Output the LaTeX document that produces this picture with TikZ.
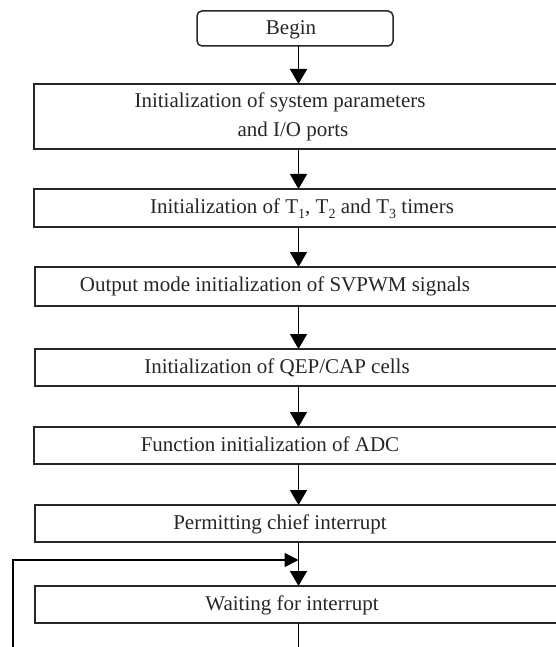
\documentclass[tikz,border=0pt]{standalone}
\usepackage{fontspec}
\setmainfont{Liberation Serif}
\usetikzlibrary{arrows.meta}
\newcommand\subs[1]{\raisebox{-0.28em}{\fontsize{14pt}{14pt}\selectfont #1}}
\begin{document}
\begin{tikzpicture}[x=1pt,y=-1pt,
  box/.style={draw=black!85, line width=1.5pt, inner sep=0pt, outer sep=0pt, minimum width=566pt},
  lbl/.style={text=black!85, font=\fontsize{21pt}{29pt}\selectfont, inner sep=0pt, align=center, anchor=base},
  arr/.style={line width=1.6pt, -{Triangle[length=15pt,width=17pt]}},
  ln/.style={line width=1.6pt}]
\clip (0,0) rectangle (556,647);
\coordinate (ax) at (298.5,0);
% boxes
\node[box, rounded corners=5pt, minimum width=196pt, minimum height=35pt] (b0) at (295,28.5) {};
\node[box, minimum height=65pt] (b1) at (317,116.5) {};
\node[box, minimum height=38pt] (b2) at (317,208) {};
\node[box, minimum height=39pt] (b3) at (318,286.5) {};
\node[box, minimum height=37pt] (b4) at (318,367.5) {};
\node[box, minimum height=37pt] (b5) at (317,445.5) {};
\node[box, minimum height=37pt] (b6) at (318,523.5) {};
\node[box, minimum height=37pt] (b7) at (318,604.5) {};
% labels
\node[lbl] (t0) at (291,35) {Begin};
\node[lbl] (t1) at (280,137) {Initialization of system parameters\\\hspace*{26pt}and I/O ports};
\node[lbl] (t2) at (302,213) {Initialization of T\subs{1}, T\subs{2}\ and T\subs{3}\ timers};
\node[lbl] (t3) at (275,291) {Output mode initialization of SVPWM signals};
\node[lbl] (t4) at (277,373) {Initialization of QEP/CAP cells};
\node[lbl] (t5) at (270,451) {Function initialization of ADC};
\node[lbl] (t6) at (280,529) {Permitting chief interrupt};
\node[lbl] (t7) at (292,610) {Waiting for interrupt};
% connectors
\draw[arr] (b0.south -| ax) -- (b1.north -| ax);
\draw[arr] (b1.south -| ax) -- (b2.north -| ax);
\draw[arr] (b2.south -| ax) -- (b3.north -| ax);
\draw[arr] (b3.south -| ax) -- (b4.north -| ax);
\draw[arr] (b4.south -| ax) -- (b5.north -| ax);
\draw[arr] (b5.south -| ax) -- (b6.north -| ax);
\draw[arr] (b6.south -| ax) -- (b7.north -| ax);
\coordinate (lb) at (13,650);
\coordinate (lt) at (13,560);
\coordinate (wb) at (298.5,650);
\draw[arr, -{Triangle[length=14pt,width=14pt]}] (lb) -- (lt) -- (lt -| ax);
\draw[ln] (b7.south -| ax) -- (wb);
\end{tikzpicture}
\end{document}
